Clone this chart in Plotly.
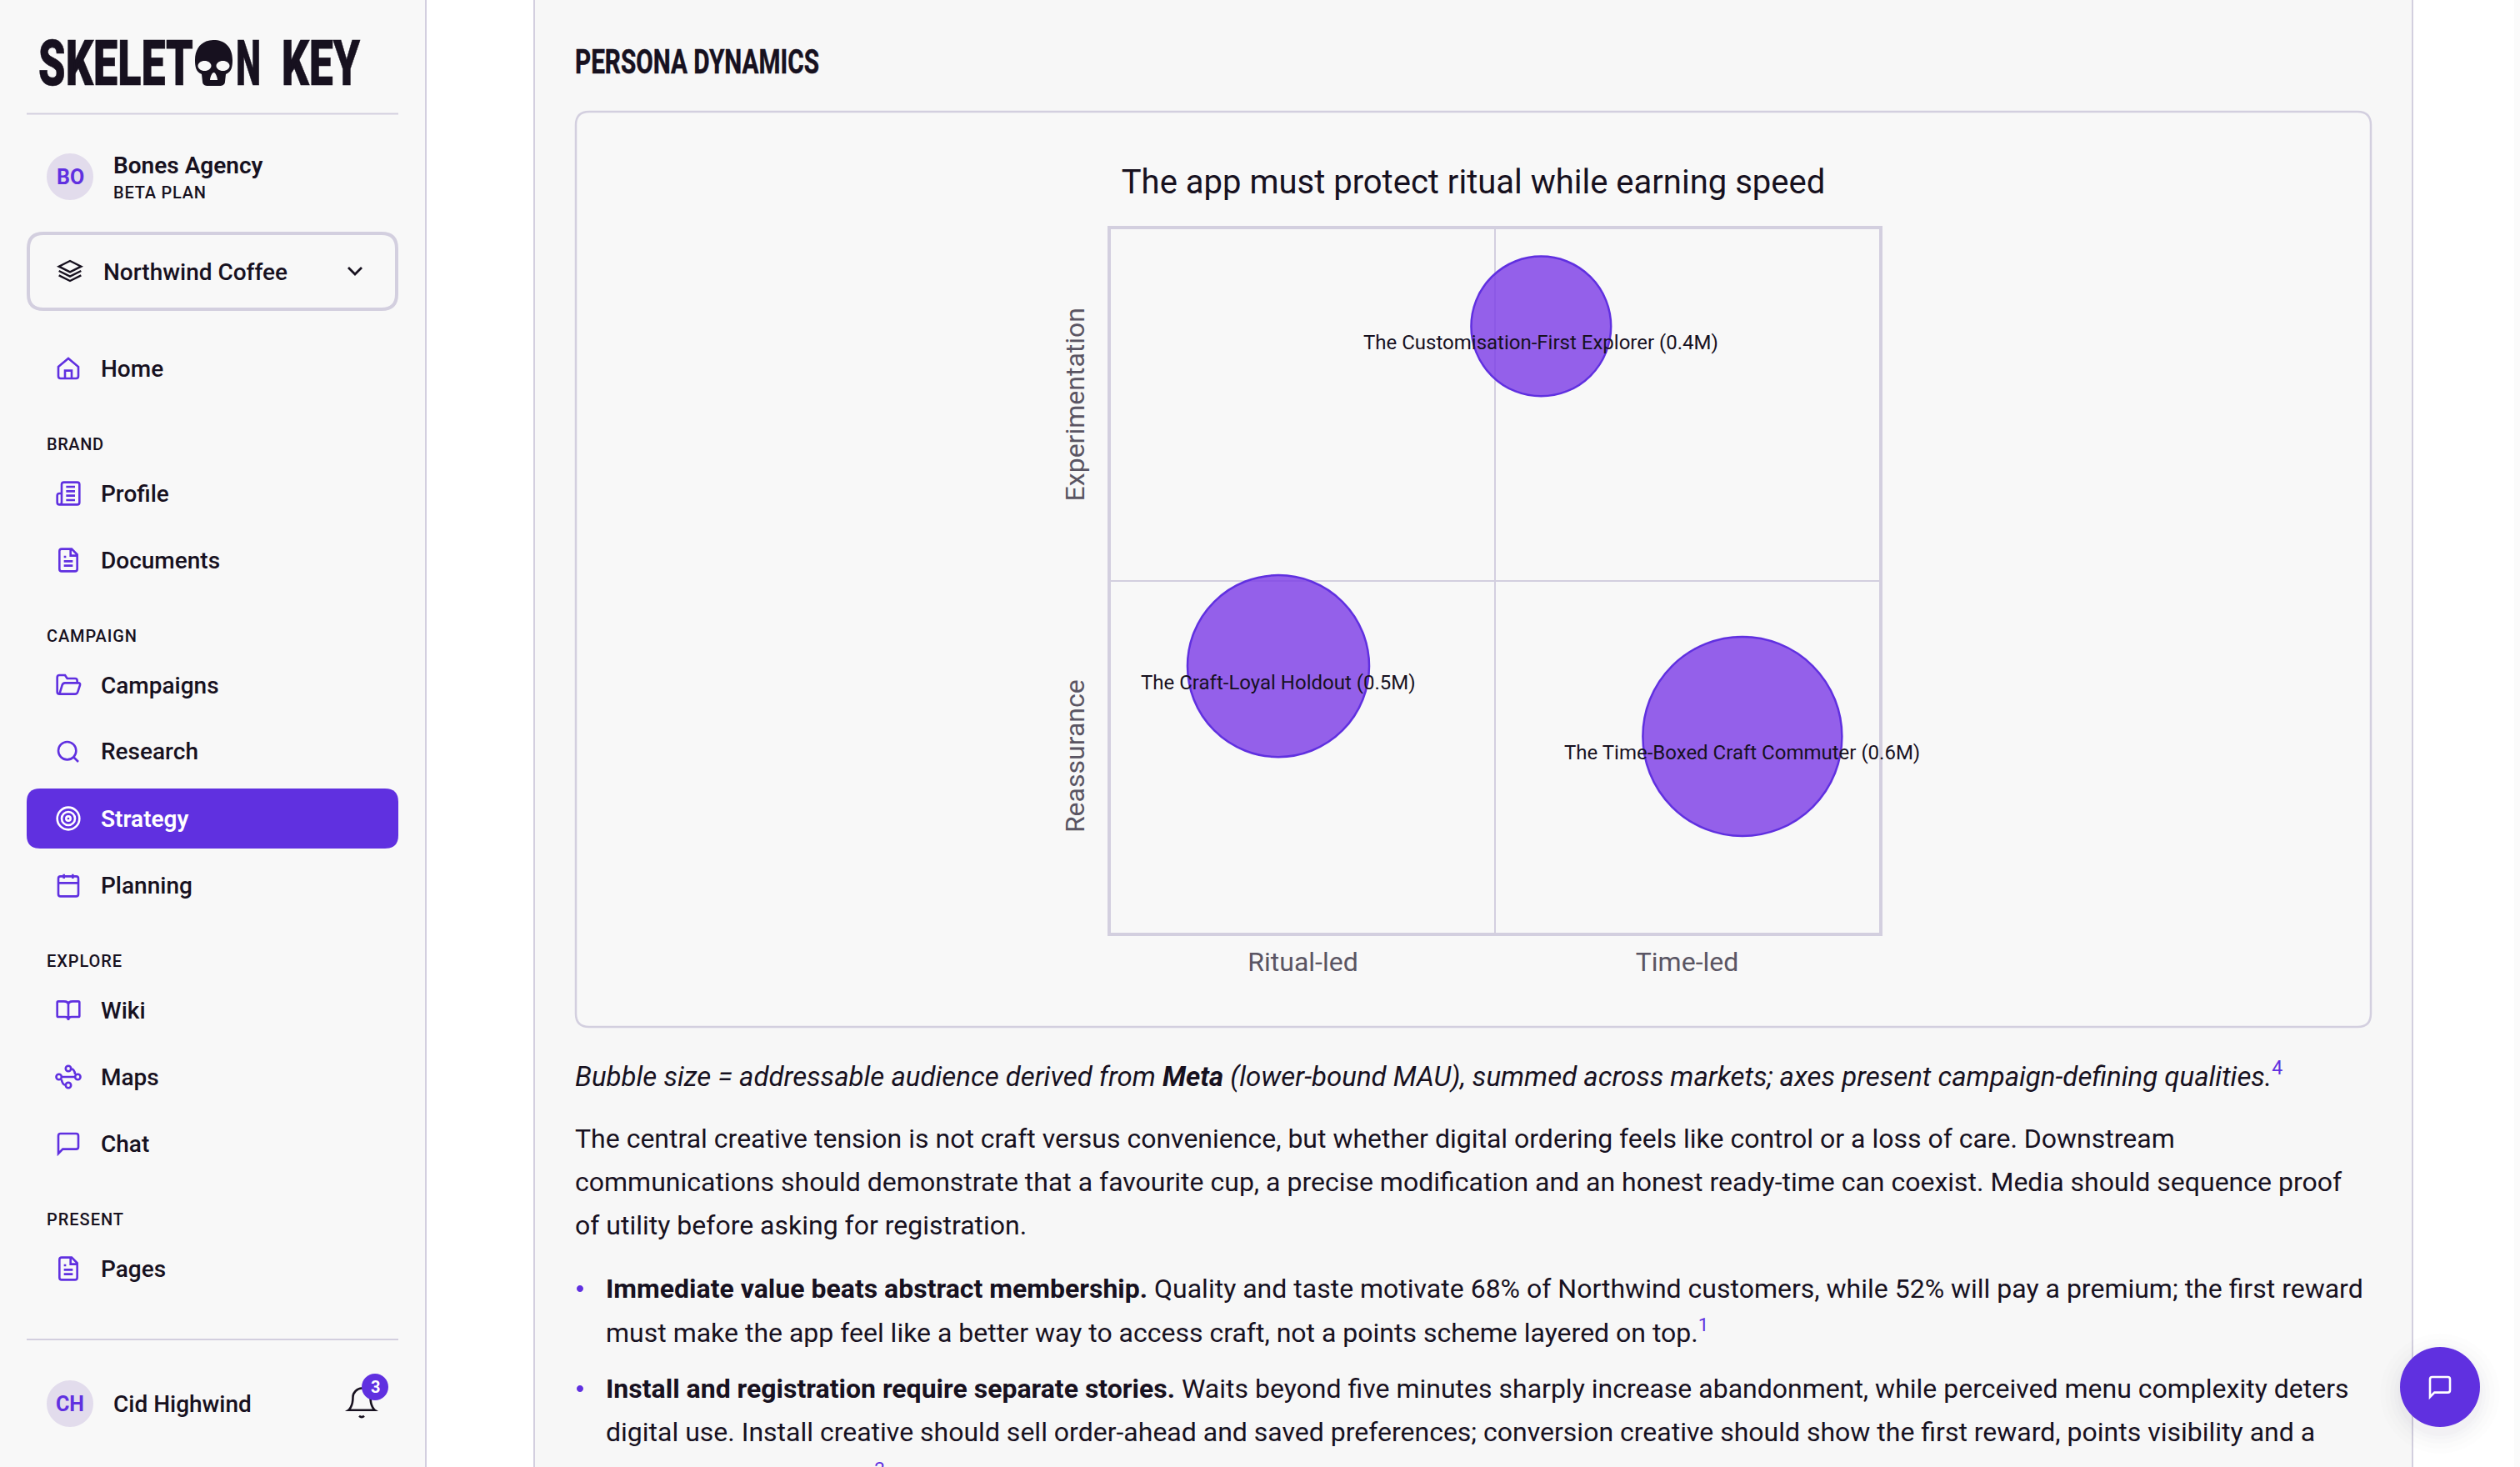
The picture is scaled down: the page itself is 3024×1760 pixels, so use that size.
import re
import json
import plotly.graph_objects as go

# ---------- chart data ----------
personas = ["The Customisation-First Explorer", "The Craft-Loyal Holdout", "The Time-Boxed Craft Commuter"]
ritual_time = [56.0, 21.8, 82.2]
reassure_experiment = [86.2, 37.9, 27.9]
audience_m = [0.40, 0.52, 0.57]
x_tick_vals = [25, 75]
x_tick_text = ["Ritual-led", "Time-led"]
y_tick_vals = [25, 75]
y_tick_text = ["Reassurance", "Experimentation"]
chart_title = "The app must protect ritual while earning speed"

# ---------- page text ----------
nav_items = [("Home", 442, "home"), ("Profile", 592, "profile"), ("Documents", 672, "doc"),
             ("Campaigns", 822, "folder"), ("Research", 902, "search"), ("Strategy", 982, "target"),
             ("Planning", 1062, "calendar"), ("Wiki", 1212, "book"), ("Maps", 1292, "maps"),
             ("Chat", 1372, "chat"), ("Pages", 1522, "doc")]
section_labels = [("BRAND", 533, 68), ("CAMPAIGN", 763, 108), ("EXPLORE", 1153, 90), ("PRESENT", 1463, 92)]
SUP = '<span style="color:#6030E0"><sup>%s</sup></span>'
body_lines = [
    (690, 1289, 33, '<i>Bubble size = addressable audience derived from <b>Meta</b> (lower-bound MAU), summed across markets; axes present campaign-defining qualities.</i>' + SUP % "4"),
    (690, 1366, 32, "The central creative tension is not craft versus convenience, but whether digital ordering feels like control or a loss of care. Downstream"),
    (690, 1418, 32, "communications should demonstrate that a favourite cup, a precise modification and an honest ready-time can coexist. Media should sequence proof"),
    (690, 1470, 32, "of utility before asking for registration."),
    (727, 1546, 32, "<b>Immediate value beats abstract membership.</b> Quality and taste motivate 68% of Northwind customers, while 52% will pay a premium; the first reward"),
    (727, 1597, 32, "must make the app feel like a better way to access craft, not a points scheme layered on top." + SUP % "1"),
    (727, 1666, 32, "<b>Install and registration require separate stories.</b> Waits beyond five minutes sharply increase abandonment, while perceived menu complexity deters"),
    (727, 1718, 32, "digital use. Install creative should sell order-ahead and saved preferences; conversion creative should show the first reward, points visibility and a"),
    (727, 1770, 32, "short completion path." + SUP % "2"),
]

W, H = 3024, 1760
INK = "#17111F"
PURPLE = "#6030E0"
RULE = "#D3CFDF"
GREY = "#5A5563"
FONT = "Roboto"


def fx(x):
    return x / W


def fy(y):
    return 1 - y / H


def to_paper(d):
    idx = [0]

    def rep(m):
        v = float(m.group(0))
        i = idx[0]
        idx[0] += 1
        return f"{fx(v):.6f}" if i % 2 == 0 else f"{fy(v):.6f}"

    return re.sub(r"-?\d+\.?\d*", rep, d)


def rrect(x0, y0, x1, y1, r):
    return (f"M{x0+r},{y0} L{x1-r},{y0} Q{x1},{y0} {x1},{y0+r} L{x1},{y1-r} Q{x1},{y1} {x1-r},{y1} "
            f"L{x0+r},{y1} Q{x0},{y1} {x0},{y1-r} L{x0},{y0+r} Q{x0},{y0} {x0+r},{y0} Z")


def circ(cx, cy, r, ry=None):
    ry = r if ry is None else ry
    k = 0.5523
    return (f"M{cx-r},{cy} C{cx-r},{cy-k*ry} {cx-k*r},{cy-ry} {cx},{cy-ry} "
            f"C{cx+k*r},{cy-ry} {cx+r},{cy-k*ry} {cx+r},{cy} "
            f"C{cx+r},{cy+k*ry} {cx+k*r},{cy+ry} {cx},{cy+ry} "
            f"C{cx-k*r},{cy+ry} {cx-r},{cy+k*ry} {cx-r},{cy} Z")


shapes = []
annots = []


def box(x0, y0, x1, y1, fill, line=None, lw=0, layer="below"):
    shapes.append(dict(type="rect", xref="paper", yref="paper", x0=fx(x0), x1=fx(x1), y0=fy(y1), y1=fy(y0),
                       fillcolor=fill, line=dict(width=lw, color=line or fill), layer=layer))


def shp(d, fill=None, line=None, lw=0, layer="above", opacity=1):
    shapes.append(dict(type="path", xref="paper", yref="paper", path=to_paper(d),
                       fillcolor=fill or "rgba(0,0,0,0)", opacity=opacity,
                       line=dict(width=lw, color=line or "rgba(0,0,0,0)"), layer=layer))


def label(x, y, text, size=28, color=INK, weight=400, anchor="left", family=FONT):
    annots.append(dict(xref="paper", yref="paper", x=fx(x), y=fy(y), text=text, showarrow=False,
                       xanchor=anchor, yanchor="middle", align="left", borderpad=0, borderwidth=0,
                       font=dict(family=family, size=size, color=color, weight=weight)))


ICONS = {
    "home": "M3,10.5 L12,3 L21,10.5 L21,19 Q21,21 19,21 L5,21 Q3,21 3,19 Z M9,21 L9,14 L15,14 L15,21",
    "profile": "M6,4 Q6,2 8,2 L20,2 Q22,2 22,4 L22,20 Q22,22 20,22 L4,22 Q2,22 2,20 L2,14 Q2,12 4,12 L6,12 M6,4 L6,20 Q6,22 4,22 M10,6 L18,6 M10,10 L18,10 M10,14 L18,14 M10,18 L18,18",
    "doc": "M6,2 L15,2 L20,7 L20,20 Q20,22 18,22 L6,22 Q4,22 4,20 L4,4 Q4,2 6,2 Z M14,2 L14,8 L20,8 M8,13 L16,13 M8,17 L16,17 M8,9 L10,9",
    "folder": "M4,20 Q2,20 2,18 L2,5 Q2,3 4,3 L9,3 L11,6 L18,6 Q20,6 20,8 L20,10 M4,20 L6.5,12 Q7,10 9,10 L21,10 Q23,10 22.5,12 L20.5,18 Q20,20 18,20 Z",
    "search": circ(11, 11, 8) + " M21,21 L16.7,16.7",
    "target": circ(12, 12, 10) + " " + circ(12, 12, 6) + " " + circ(12, 12, 2),
    "calendar": rrect(3, 4, 21, 22, 2) + " M16,2 L16,6 M8,2 L8,6 M3,10 L21,10",
    "book": "M12,7 L12,21 M3,4 L8,4 Q12,4 12,7 Q12,4 16,4 L21,4 Q22,4 22,5 L22,17 Q22,18 21,18 L15,18 Q12,18 12,21 Q12,18 9,18 L3,18 Q2,18 2,17 L2,5 Q2,4 3,4 Z",
    "maps": circ(3.5, 12, 2.4) + " " + circ(20.5, 12, 2.4) + " " + circ(12, 4.5, 2.4) + " " + circ(12, 19.5, 2.4)
            + " M5.9,12 L18.1,12 M14.4,4.5 Q17.5,5 18.1,9.6 M9.6,19.5 Q6.5,19 5.9,14.4",
    "chat": "M3,5 Q3,3 5,3 L19,3 Q21,3 21,5 L21,15 Q21,17 19,17 L7,17 L3,21 Z",
    "layers": "M12,3 L22,8 L12,13 L2,8 Z M2,12 L12,17 L22,12 M2,16 L12,21 L22,16",
    "chevron": "M6,9 L12,15 L18,9",
    "bell": "M6,8 C6,5 9,2 12,2 C15,2 18,5 18,8 C18,15 21,17 21,17 L3,17 C3,17 6,15 6,8 Z M10.3,21 Q12,22.6 13.7,21",
}


def icon(name, cx, cy, s=1.333, color=PURPLE, lw=2.6):
    idx = [0]

    def rep(m):
        v = float(m.group(0))
        i = idx[0]
        idx[0] += 1
        return f"{cx + (v-12)*s:.2f}" if i % 2 == 0 else f"{cy + (v-12)*s:.2f}"

    shp(re.sub(r"-?\d+\.?\d*", rep, ICONS[name]), line=color, lw=lw)


# ---------- page frame ----------
box(0, 0, 510, H, "#F8F8F8")
box(510, 0, 512, H, RULE)
box(641, -4, 2895, H + 4, "#F7F7F7", RULE, 2)
box(3017, 0, W, H, "#FBFBFB")
shp(rrect(691, 134, 2845, 1232, 16), fill="#F8F8F8", line=RULE, lw=2.5, layer="below")

# ---------- sidebar ----------
LOGO_FONT = FONT
label(46, 76, "SKELET", 76, INK, 900, family=LOGO_FONT)
label(283, 76, "N", 76, INK, 900, family=LOGO_FONT)
label(338, 76, "KEY", 76, INK, 900, family=LOGO_FONT)
shp("M234,72 C234,56 244,48 256.5,48 C269,48 279,56 279,72 C279,80 278,86 271,89 L270,98 C270,102 266,103 264,103 "
    "L249,103 C247,103 243,102 243,98 L242,89 C235,86 234,80 234,72 Z", fill=INK)
shp(circ(245.5, 79, 8, 6), fill="#F8F8F8")
shp(circ(267.5, 79, 8, 6), fill="#F8F8F8")
shp("M256.5,87 C259,87 261,94 261,96 L252,96 C252,94 254,87 256.5,87 Z", fill="#F8F8F8")
box(32, 135.5, 478, 137.5, RULE)

shp(circ(84, 212, 28), fill="#E2DCEC")
label(84, 212, "BO", 25, PURPLE, 700, "center")
label(136, 198, "Bones Agency", 28, INK, 600)
label(136, 231, "BETA PLAN", 20, INK, 500)
shp(rrect(34, 280, 476, 371, 18), line=RULE, lw=4, layer="below")
icon("layers", 84, 325, 1.333, INK, 2.4)
label(124, 326, "Northwind Coffee", 28, INK, 500)
icon("chevron", 426, 325, 1.333, INK, 2.8)

shp(rrect(32, 946, 478, 1018, 16), fill=PURPLE, layer="below")
for name, y, ic in nav_items:
    active = name == "Strategy"
    label(121, y, name, 28, "#FFFFFF" if active else INK, 600 if active else 500)
    icon(ic, 82, y, 1.333, "#FFFFFF" if active else PURPLE, 2.6)
for name, y, _ in section_labels:
    label(56, y, name, 20, INK, 500)

box(32, 1606, 478, 1608, RULE)
shp(circ(84, 1684, 28), fill="#E2DCEC")
label(84, 1684, "CH", 25, PURPLE, 700, "center")
label(136, 1684, "Cid Highwind", 28, INK, 500)
icon("bell", 434, 1683, 1.75, INK, 2.6)
shp(circ(450, 1664, 16), fill=PURPLE)
label(450, 1664, "3", 20, "#FFFFFF", 700, "center")

# ---------- main ----------
label(690, 74, "PERSONA DYNAMICS", 41, INK, 700)
for x, y, size, text in body_lines:
    label(x, y, text, size, INK, 400)
shp(circ(696, 1546, 4), fill=PURPLE)
shp(circ(696, 1666, 4), fill=PURPLE)

# ---------- floating action button ----------
for r, a in [(72, .006), (66, .008), (60, .010), (55, .012), (51, .016)]:
    shp(circ(2928, 1672, r), fill=f"rgba(40,30,60,{a})")
shp(circ(2928, 1664, 48), fill=PURPLE)
icon("chat", 2928, 1664, 1.333, "#FFFFFF", 2.6)

# ---------- chart ----------
labels = [f"{p} ({a:.1f}M)" for p, a in zip(personas, audience_m)]
for x, y, t in zip(ritual_time, reassure_experiment, labels):
    annots.append(dict(xref="x", yref="y", x=x, y=y, text=t, showarrow=False, yshift=-19.5,
                       font=dict(family=FONT, size=24, color=INK)))

fig = go.Figure(go.Scatter(
    x=ritual_time, y=reassure_experiment, mode="markers", text=labels, hoverinfo="text",
    marker=dict(size=audience_m, sizemode="diameter", sizeref=0.57 / 239, opacity=1,
                color="rgba(122,58,230,0.8)", line=dict(color=PURPLE, width=2.5)),
))


def axis(domain, vals, text, angle, pad, shift):
    return dict(domain=domain, range=[0, 100], tickmode="array", tickvals=vals, ticktext=text, tickangle=angle,
                showgrid=False, zeroline=False, showline=True, mirror=True, linecolor=RULE, linewidth=4,
                ticks="outside", ticklen=pad, tickcolor="rgba(0,0,0,0)", ticklabelshift=shift,
                tickfont=dict(family=FONT, size=32, color=GREY),
                minor=dict(tickmode="array", tickvals=[50], showgrid=True, gridcolor=RULE, gridwidth=2, ticks=""),
                fixedrange=True)


fig.update_layout(
    width=W, height=H, autosize=False, margin=dict(l=0, r=0, t=0, b=0),
    paper_bgcolor="#FFFFFF", plot_bgcolor="#F8F8F8", showlegend=False,
    title=dict(text=chart_title, x=1768 / W, xanchor="center", y=fy(218), yanchor="middle",
               font=dict(family=FONT, size=40, color=INK)),
    xaxis=axis([fx(1333), fx(2255)], x_tick_vals, x_tick_text, 0, 4, 0),
    yaxis=axis([fy(1119), fy(275)], y_tick_vals, y_tick_text, -90, 15, 4),
    shapes=shapes, annotations=annots,
)

fit = {"SKELET": [186, "glyph", 0.6], "N": [30, "glyph", 0.6], "KEY": [94, "glyph", 0.6],
       "PERSONA DYNAMICS": [293, "glyph", 0.5], "BETA PLAN": [111, "spacing", 0]}
for n, _, w in section_labels:
    fit[n] = [w, "spacing", 0]

post = """
document.body.style.margin='0';document.body.style.overflow='hidden';
var FIT=%s;
function applyFit(){document.querySelectorAll('text.annotation-text').forEach(function(t){
 var f=FIT[t.textContent]; if(!f) return;
 t.setAttribute('textLength',f[0]);
 t.setAttribute('lengthAdjust',f[1]==='glyph'?'spacingAndGlyphs':'spacing');
 if(f[2]>0){t.style.stroke='%s';t.style.strokeWidth=f[2]+'px';}
});}
applyFit();[100,400,1000,2000].forEach(function(d){setTimeout(applyFit,d);});
""" % (json.dumps(fit), INK)

fig.write_html("out.html", post_script=post, config={"displayModeBar": False, "responsive": False})
